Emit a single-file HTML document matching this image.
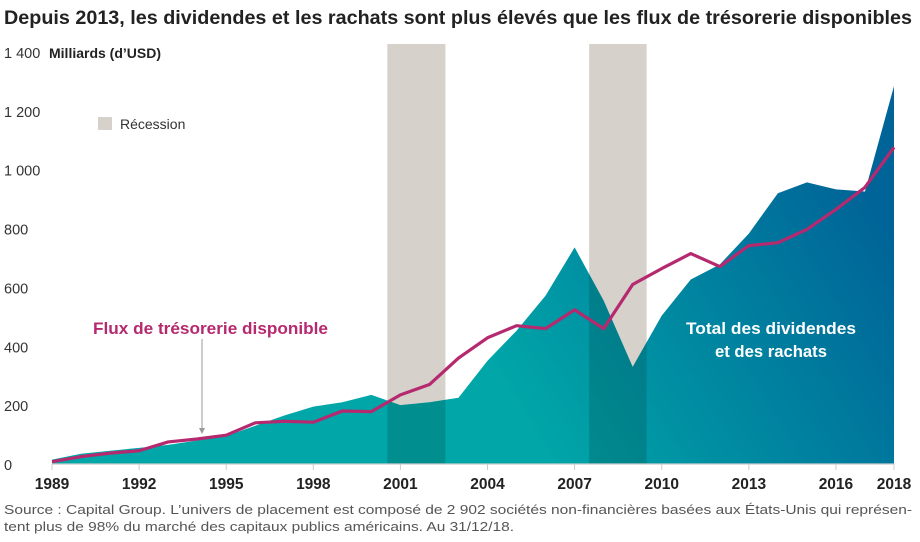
<!DOCTYPE html>
<html><head><meta charset="utf-8"><style>
body{margin:0;background:#fff;width:920px;height:537px;overflow:hidden;font-family:"Liberation Sans",sans-serif;}
svg text{font-family:"Liberation Sans",sans-serif;}
</style></head><body>
<svg id="chart" width="920" height="537" xmlns="http://www.w3.org/2000/svg">
<defs>
<linearGradient id="grad" x1="550" y1="463" x2="900" y2="250" gradientUnits="userSpaceOnUse">
<stop offset="0" stop-color="#00a6a8"/><stop offset="1" stop-color="#006498"/>
</linearGradient>
<clipPath id="areaClip"><path id="clipPathShape" d=""/></clipPath>
</defs>
<text x="4" y="24" font-size="19" font-weight="bold" fill="#222" textLength="908" lengthAdjust="spacingAndGlyphs">Depuis 2013, les dividendes et les rachats sont plus élevés que les flux de trésorerie disponibles</text>
<g id="yaxis"></g>
<text x="49" y="58" font-size="14" font-weight="bold" fill="#222">Milliards (d’USD)</text>
<rect x="98" y="117" width="14" height="13" fill="#d6d1cb"/>
<text x="120" y="129" font-size="14" fill="#333">Récession</text>
<g id="bands"></g>
<g id="marks"></g>
<line x1="52" x2="894" y1="464" y2="464" stroke="#ccc" stroke-width="1.2"/>
<g id="xaxis"></g>
<text x="93" y="334" font-size="17" font-weight="bold" fill="#b5296f" textLength="235" lengthAdjust="spacingAndGlyphs">Flux de trésorerie disponible</text>
<line x1="202" y1="339" x2="202" y2="430" stroke="#999" stroke-width="1"/>
<path d="M199,428 L202,434 L205,428 Z" fill="#999"/>
<text x="771" y="334" font-size="17" font-weight="bold" fill="#fff" text-anchor="middle" textLength="170" lengthAdjust="spacingAndGlyphs">Total des dividendes</text>
<text x="771" y="357" font-size="17" font-weight="bold" fill="#fff" text-anchor="middle" textLength="112" lengthAdjust="spacingAndGlyphs">et des rachats</text>
<text x="4" y="514" font-size="13.2" fill="#555" textLength="908" lengthAdjust="spacingAndGlyphs">Source : Capital Group. L’univers de placement est composé de 2 902 sociétés non-financières basées aux États-Unis qui représen-</text>
<text x="4" y="531" font-size="13.2" fill="#555" textLength="510" lengthAdjust="spacingAndGlyphs">tent plus de 98% du marché des capitaux publics américains. Au 31/12/18.</text>
</svg>
<script>
const years=[1989,1990,1991,1992,1993,1994,1995,1996,1997,1998,1999,2000,2001,2002,2003,2004,2005,2006,2007,2008,2009,2010,2011,2012,2013,2014,2015,2016,2017,2018];
const totalPayouts=[15,35,45,55,65,80,95,130,165,195,210,235,200,210,225,351,453,572,736,555,330,504,627,678,783,920,957,933,926,1284];
const freeCashFlow=[8,25,37,45,75,85,98,140,145,142,180,178,235,270,360,429,470,460,524,460,610,664,715,671,742,752,797,865,940,1076];
const yTicks=[0,200,400,600,800,1000,1200,1400];
const yTickLabels=["0","200","400","600","800","1 000","1 200","1 400"];
const xTicks=[1989,1992,1995,1998,2001,2004,2007,2010,2013,2016,2018];
const recessionStarts=[2000.55,2007.5];
const recessionEnds=[2002.55,2009.48];
const NS="http://www.w3.org/2000/svg";
const x=v=>52+(v-1989)*(894-52)/29;
const y=v=>464-v*(464-52)/1400;
function mk(t,a,p){const e=document.createElementNS(NS,t);for(const k in a)e.setAttribute(k,a[k]);document.getElementById(p).appendChild(e);return e;}
yTicks.forEach((v,i)=>{const t=mk('text',{x:4,y:y(v)+6,'font-size':14.5,fill:'#333'},'yaxis');t.textContent=yTickLabels[i];

});
xTicks.forEach(v=>{const l=mk('line',{x1:x(v),x2:x(v),y1:464,y2:470,stroke:'#ccc'},'xaxis');


const t=mk('text',{x:x(v),y:489,'font-size':15.5,'font-weight':'bold',fill:'#222','text-anchor':'middle'},'xaxis');t.textContent=v;

});
recessionStarts.forEach((s,i)=>{const r=mk('rect',{x:x(s),y:44,width:x(recessionEnds[i])-x(s),height:420,fill:'#d6d1cb'},'bands');

});
let d='M'+x(years[0])+','+y(0);
years.forEach((yr,i)=>d+=' L'+x(yr)+','+y(totalPayouts[i]));
d+=' L'+x(years[years.length-1])+','+y(0)+' Z';
document.getElementById('clipPathShape').setAttribute('d',d);
const area=mk('path',{d:d,fill:'url(#grad)'},'marks');


recessionStarts.forEach((s,i)=>{const r=mk('rect',{x:x(s),y:44,width:x(recessionEnds[i])-x(s),height:420,fill:'#003a38','fill-opacity':0.22,'clip-path':'url(#areaClip)'},'marks');

});
const pts=years.map((yr,i)=>x(yr)+','+y(freeCashFlow[i])).join(' ');
const line=mk('polyline',{points:pts,fill:'none',stroke:'#b5296f','stroke-width':3.2,'stroke-linejoin':'round'},'marks');


</script>
</body></html>
